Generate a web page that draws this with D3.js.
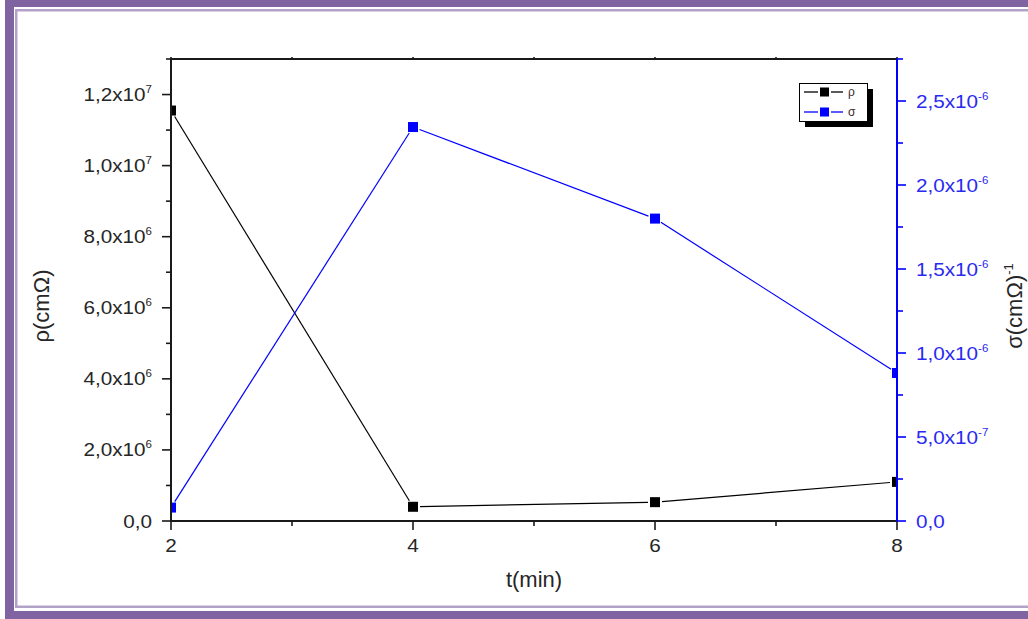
<!DOCTYPE html>
<html><head><meta charset="utf-8">
<script src="https://cdn.jsdelivr.net/npm/d3@7"></script>
<style>
html,body{margin:0;padding:0;background:#fff;}
svg{display:block;}
text{font-family:"Liberation Sans",Arial,sans-serif;}
</style></head><body>
<svg id="chart" width="1028" height="619"></svg>
<script>
// Measured resistivity and conductivity against deposition time
const times = [2, 4, 6, 8];
const rhoValues = [1.155e7, 4.0e5, 5.3e5, 1.1e6];
const sigmaValues = [8.0e-8, 2.345e-6, 1.80e-6, 8.81e-7];

// Axis ticks
const timeTicks = [2, 4, 6, 8];
const timeMinorTicks = [3, 5, 7];
const rhoTicks = [0, 2e6, 4e6, 6e6, 8e6, 1e7, 1.2e7];
const rhoMinorTicks = [1e6, 3e6, 5e6, 7e6, 9e6, 1.1e7, 1.3e7];
const sigmaTicks = [0, 5e-7, 1e-6, 1.5e-6, 2e-6, 2.5e-6];
const sigmaMinorTicks = [2.5e-7, 7.5e-7, 1.25e-6, 1.75e-6, 2.25e-6, 2.75e-6];

const seriesNames = ["ρ", "σ"];
const seriesColors = ["#000000", "#0000ff"];

const svg = d3.select("#chart");
const W = 1028, H = 619;
const plot = {left: 171, right: 897, top: 59, bottom: 521};
const leftInk = "#262626", rightInk = "#2a2af2";

// Page frame: thick purple band with a thin lavender rule inside
const frame = svg.append("g");
frame.append("rect").attr("x", 5).attr("y", 0).attr("width", 9).attr("height", H).attr("fill", "#8064a2");
frame.append("rect").attr("x", 5).attr("y", 0).attr("width", W).attr("height", 7).attr("fill", "#8064a2");
frame.append("rect").attr("x", 5).attr("y", 611).attr("width", W).attr("height", 8).attr("fill", "#8064a2");
frame.append("rect").attr("x", 16.25).attr("y", 10.25).attr("width", W).attr("height", 596.5)
  .attr("fill", "none").attr("stroke", "#b3a2c8").attr("stroke-width", 2.5);

const x = d3.scaleLinear().domain([2, 8]).range([plot.left, plot.right]);
const yL = d3.scaleLinear().domain([0, 1.3e7]).range([plot.bottom, plot.top]);
const yR = d3.scaleLinear().domain([0, 2.75e-6]).range([plot.bottom, plot.top]);

function sci(v) {
  if (v === 0) return {mant: "0,0", exp: null};
  const e = Math.floor(Math.log10(v) + 1e-9);
  const m = Math.round(v / Math.pow(10, e) * 10) / 10;
  return {mant: m.toFixed(1).replace(".", ",") + "x10", exp: String(e)};
}

// Data, clipped to the plot rectangle
svg.append("clipPath").attr("id", "plotClip").append("rect")
  .attr("x", plot.left).attr("y", plot.top)
  .attr("width", plot.right - plot.left).attr("height", plot.bottom - plot.top);

const dataG = svg.append("g").attr("clip-path", "url(#plotClip)");
const series = [
  {values: rhoValues, y: yL, color: seriesColors[0]},
  {values: sigmaValues, y: yR, color: seriesColors[1]}
];
const gap = 7;
series.forEach(s => {
  const pts = times.map((t, i) => [x(t), s.y(s.values[i])]);
  const segs = [];
  for (let i = 0; i < pts.length - 1; i++) {
    const [x0, y0] = pts[i], [x1, y1] = pts[i + 1];
    const len = Math.hypot(x1 - x0, y1 - y0);
    const ux = (x1 - x0) / len, uy = (y1 - y0) / len;
    segs.push([[x0 + ux * gap, y0 + uy * gap], [x1 - ux * gap, y1 - uy * gap]]);
  }
  dataG.selectAll(null).data(segs).join("path")
    .attr("d", d3.line())
    .attr("fill", "none").attr("stroke", s.color).attr("stroke-width", 1.2);
  dataG.selectAll(null).data(pts).join("rect")
    .attr("x", d => d[0] - 5).attr("y", d => d[1] - 5)
    .attr("width", 10).attr("height", 10).attr("fill", s.color);
});

// Axes
function styleAxis(g, color, w) {
  g.select(".domain").attr("stroke", color).attr("stroke-width", w);
  g.selectAll(".tick line").attr("stroke", color).attr("stroke-width", 1.6);
  g.selectAll(".tick text").remove();
}

// top frame line with tiny ticks
const topAx = svg.append("g").attr("transform", `translate(0,${plot.top})`)
  .call(d3.axisTop(x).tickValues(timeTicks.concat(timeMinorTicks)).tickSize(2).tickSizeOuter(0).offset(0));
styleAxis(topAx, "#1a1a1a", 2);

// bottom
const botMinor = svg.append("g").attr("transform", `translate(0,${plot.bottom})`)
  .call(d3.axisBottom(x).tickValues(timeMinorTicks).tickSize(5).tickSizeOuter(0).offset(0));
styleAxis(botMinor, "#1a1a1a", 2);
const botAx = svg.append("g").attr("transform", `translate(0,${plot.bottom})`)
  .call(d3.axisBottom(x).tickValues(timeTicks).tickSize(9).tickSizeOuter(0).offset(0));
styleAxis(botAx, "#1a1a1a", 2);

// left
const leftMinor = svg.append("g").attr("transform", `translate(${plot.left},0)`)
  .call(d3.axisLeft(yL).tickValues(rhoMinorTicks).tickSize(5).tickSizeOuter(0).offset(0));
styleAxis(leftMinor, "#1a1a1a", 2);
const leftAx = svg.append("g").attr("transform", `translate(${plot.left},0)`)
  .call(d3.axisLeft(yL).tickValues(rhoTicks).tickSize(9).tickSizeOuter(0).offset(0));
styleAxis(leftAx, "#1a1a1a", 2);

// right
const rightMinor = svg.append("g").attr("transform", `translate(${plot.right},0)`)
  .call(d3.axisRight(yR).tickValues(sigmaMinorTicks).tickSize(6).tickSizeOuter(0).offset(0));
styleAxis(rightMinor, "#0000ff", 2);
const rightAx = svg.append("g").attr("transform", `translate(${plot.right},0)`)
  .call(d3.axisRight(yR).tickValues(sigmaTicks).tickSize(9).tickSizeOuter(0).offset(0));
styleAxis(rightAx, "#0000ff", 2);

// Tick labels
const fs = 18, sx = 1.15;
function sciLabel(g, v, anchor, color) {
  const f = sci(v);
  const t = g.append("text").attr("text-anchor", anchor).attr("fill", color).attr("font-size", fs);
  t.append("tspan").text(f.mant);
  if (f.exp !== null) {
    t.append("tspan").attr("font-size", 10).attr("dy", -8).text(f.exp);
  }
}
svg.append("g").selectAll("g").data(rhoTicks).join("g")
  .attr("transform", d => `translate(${plot.left - 19},${yL(d) + 6.5}) scale(${sx},1)`)
  .each(function(d) { sciLabel(d3.select(this), d, "end", leftInk); });
svg.append("g").selectAll("g").data(sigmaTicks).join("g")
  .attr("transform", d => `translate(${plot.right + 19},${yR(d) + 6.5}) scale(${sx},1)`)
  .each(function(d) { sciLabel(d3.select(this), d, "start", rightInk); });
svg.append("g").selectAll("text").data(timeTicks).join("text")
  .attr("transform", d => `translate(${x(d)},552) scale(${sx},1)`)
  .attr("text-anchor", "middle").attr("font-size", fs).attr("fill", leftInk)
  .text(d => d);

// Axis titles
svg.append("text").attr("x", 534).attr("y", 587).attr("text-anchor", "middle")
  .attr("font-size", 22).attr("fill", leftInk).text("t(min)");
svg.append("text").attr("transform", "translate(49,306) rotate(-90)")
  .attr("text-anchor", "middle").attr("font-size", 22).attr("fill", leftInk).text("ρ(cmΩ)");
const rt = svg.append("text").attr("transform", "translate(1022,306) rotate(-90)")
  .attr("text-anchor", "middle").attr("font-size", 22).attr("fill", leftInk);
rt.append("tspan").text("σ(cmΩ)");
rt.append("tspan").attr("font-size", 13).attr("dy", -9).text("-1");

// Legend
const lg = svg.append("g").attr("transform", "translate(799,83)");
lg.append("rect").attr("x", 6).attr("y", 6).attr("width", 68).attr("height", 38).attr("fill", "#000");
lg.append("rect").attr("x", 0.5).attr("y", 0.5).attr("width", 68).attr("height", 38)
  .attr("fill", "#fff").attr("stroke", "#000").attr("stroke-width", 1);
const items = lg.selectAll("g.item").data(seriesNames).join("g")
  .attr("class", "item").attr("transform", (d, i) => `translate(0,${9 + i * 20})`);
items.append("line").attr("x1", 5).attr("x2", 19).attr("y1", 0).attr("y2", 0)
  .attr("stroke", (d, i) => seriesColors[i]).attr("stroke-width", 1.3);
items.append("line").attr("x1", 32).attr("x2", 44).attr("y1", 0).attr("y2", 0)
  .attr("stroke", (d, i) => seriesColors[i]).attr("stroke-width", 1.3);
items.append("rect").attr("x", 21).attr("y", -4.5).attr("width", 9).attr("height", 9)
  .attr("fill", (d, i) => seriesColors[i]);
items.append("text").attr("x", 49).attr("y", 4).attr("font-size", 12).attr("fill", "#3a2a2a")
  .text(d => d);
</script>
</body></html>
